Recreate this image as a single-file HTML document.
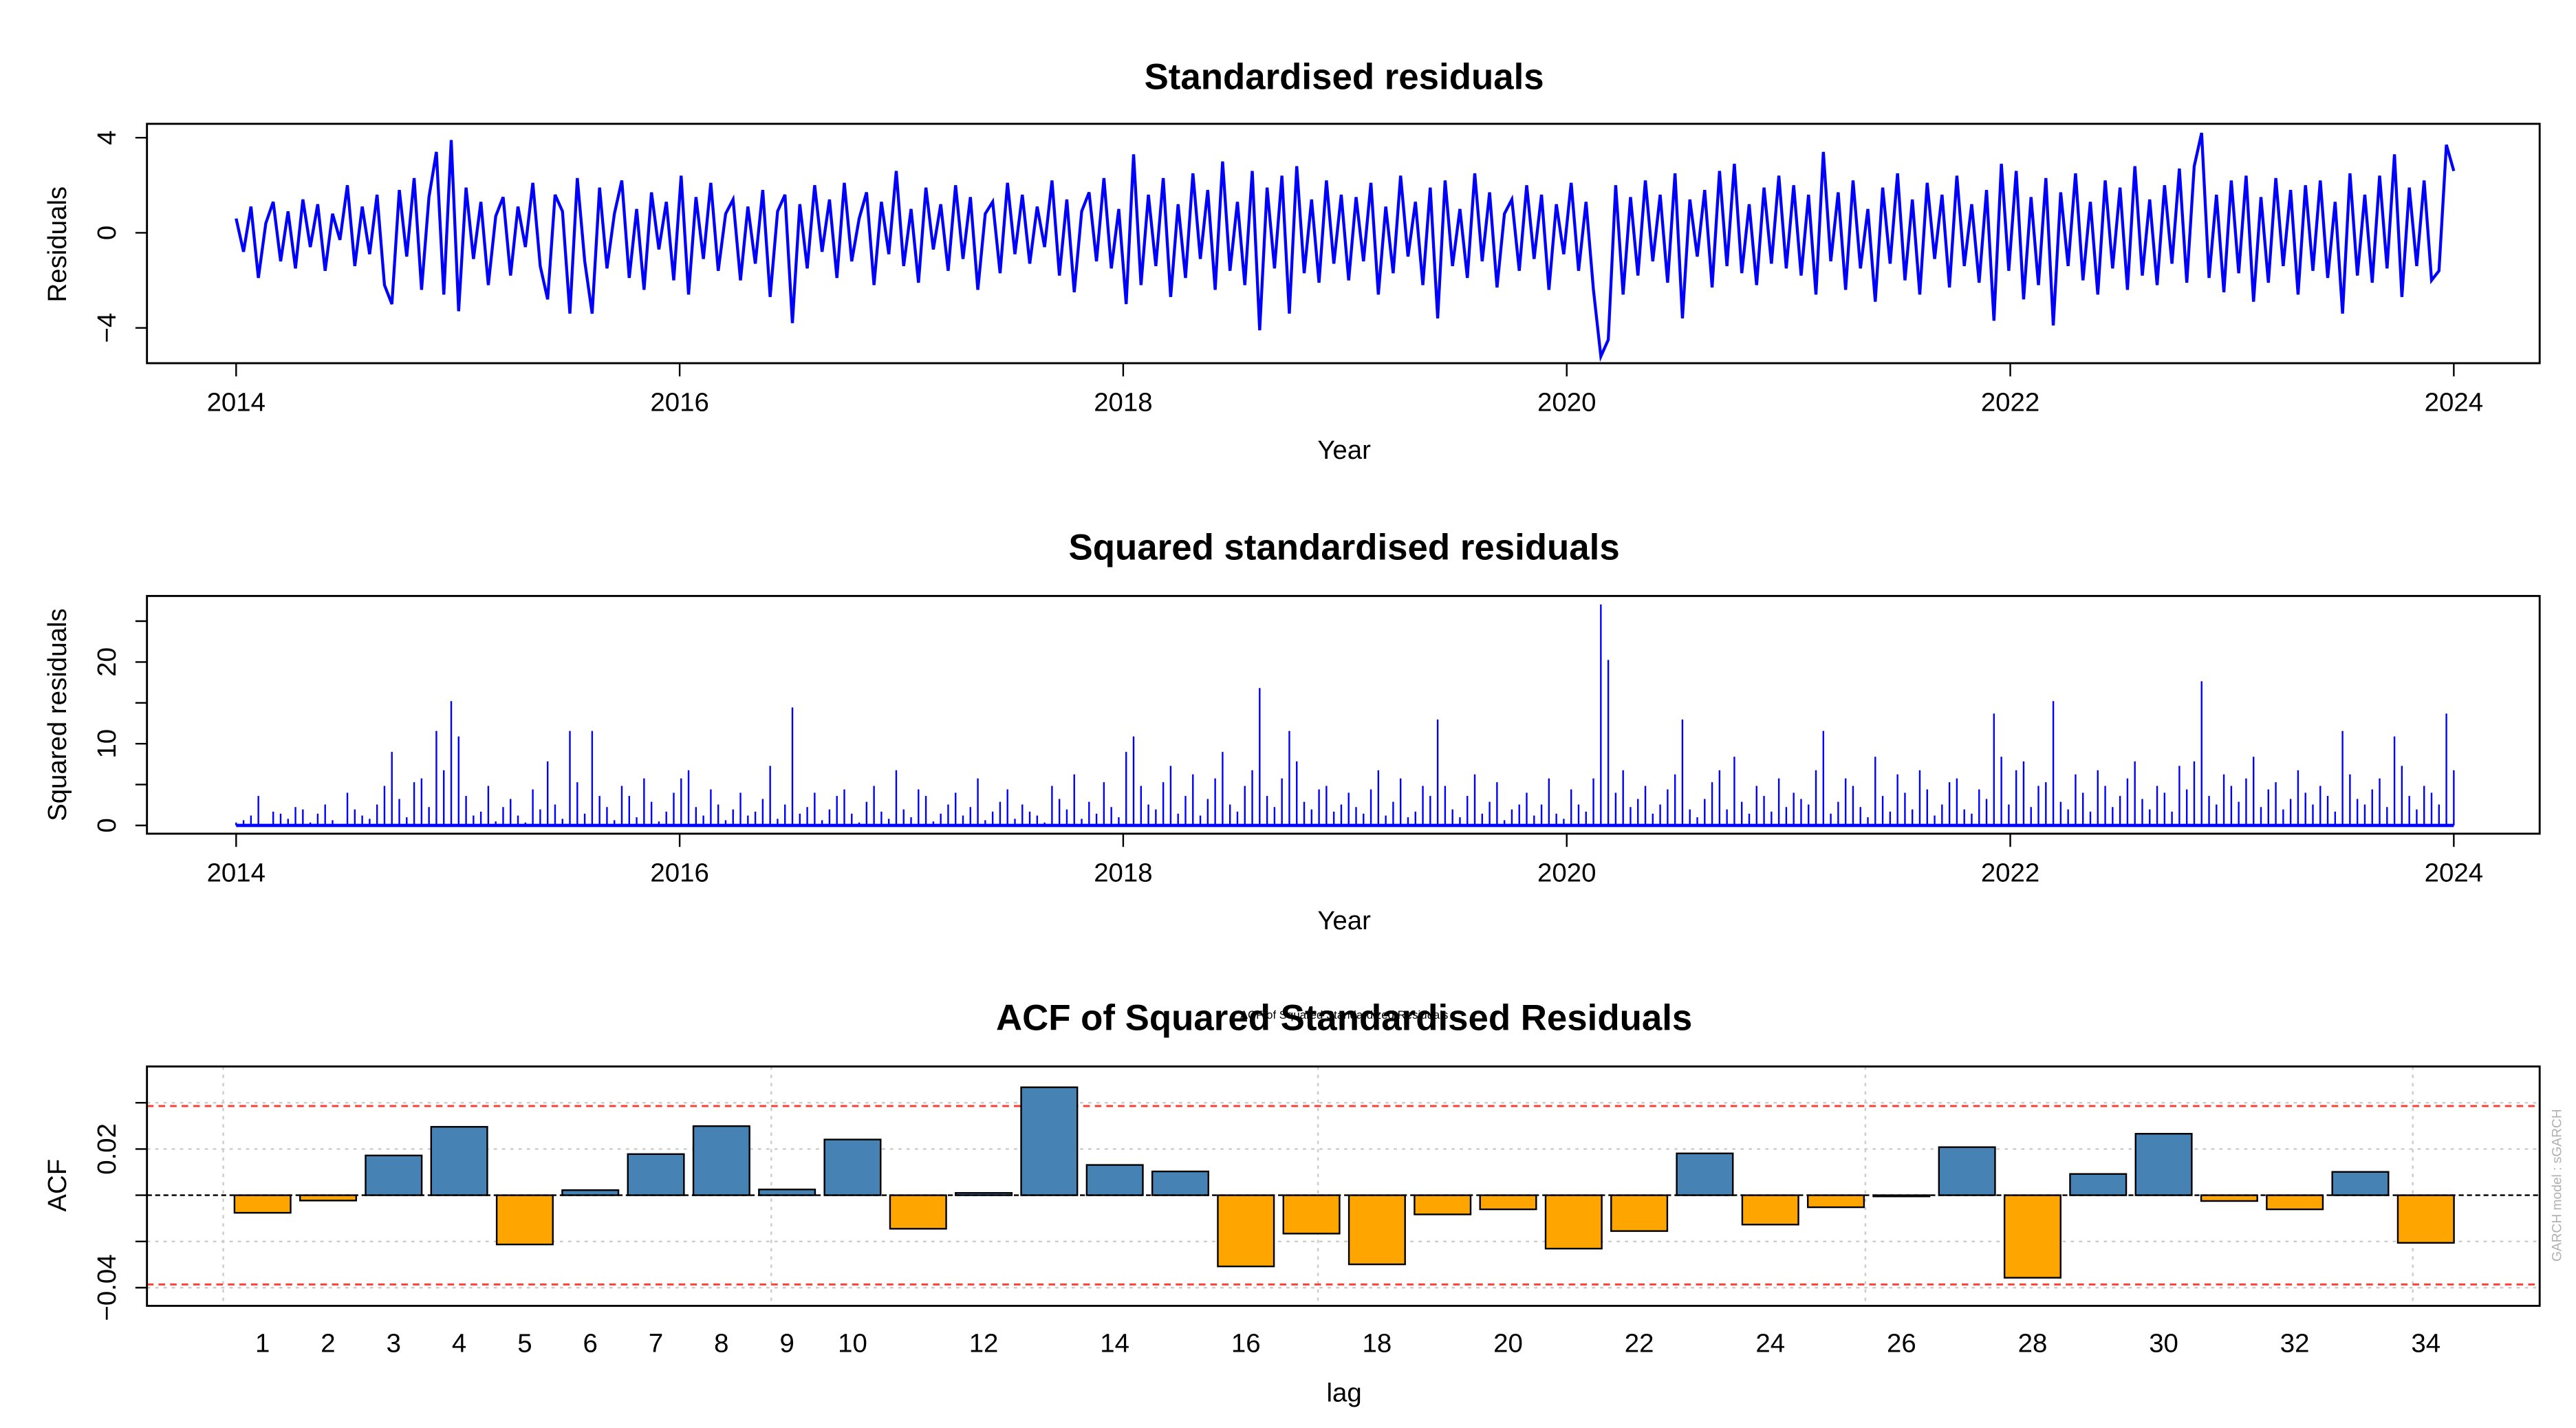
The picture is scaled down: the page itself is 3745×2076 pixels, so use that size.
<!DOCTYPE html>
<html><head><meta charset="utf-8"><style>
html,body{margin:0;padding:0;background:#fff;}
svg{display:block;font-family:"Liberation Sans",Arial,sans-serif;}
</style></head><body>
<svg id="fig" width="3745" height="2076" viewBox="0 0 1560 865" preserveAspectRatio="none" xmlns="http://www.w3.org/2000/svg">
<g id="p1"></g>
<g id="p2"></g>
<g id="p3"></g>
</svg>
<script>
// residuals sampled ~30 per year, 2014..2024
const residuals = [
0.6,-0.8,1.1,-1.9,0.4,1.3,-1.2,0.9,-1.5,1.4,-0.6,1.2,-1.6,0.8,-0.3,2.0,-1.4,1.1,-0.9,1.6,-2.2,-3.0,1.8,-1.0,2.3,-2.4,1.5,3.4,-2.6,3.9,
-3.3,1.9,-1.1,1.3,-2.2,0.7,1.5,-1.8,1.1,-0.6,2.1,-1.4,-2.8,1.6,0.9,-3.4,2.3,-1.2,-3.4,1.9,-1.5,0.8,2.2,-1.9,1.0,-2.4,1.7,-0.7,1.3,-2.0,
2.4,-2.6,1.5,-1.1,2.1,-1.6,0.8,1.4,-2.0,1.1,-1.3,1.8,-2.7,0.9,1.6,-3.8,1.2,-1.5,2.0,-0.8,1.4,-1.9,2.1,-1.2,0.6,1.7,-2.2,1.3,-0.9,2.6,
-1.4,1.0,-2.1,1.9,-0.7,1.2,-1.6,2.0,-1.1,1.5,-2.4,0.8,1.3,-1.7,2.1,-0.9,1.6,-1.3,1.1,-0.6,2.2,-1.8,1.4,-2.5,0.9,1.7,-1.2,2.3,-1.5,1.0,
-3.0,3.3,-2.2,1.6,-1.4,2.3,-2.7,1.2,-1.9,2.5,-1.1,1.8,-2.4,3.0,-1.6,1.3,-2.2,2.6,-4.1,1.9,-1.5,2.4,-3.4,2.8,-1.7,1.4,-2.1,2.2,-1.3,1.6,
-2.0,1.5,-1.2,2.1,-2.6,1.1,-1.7,2.4,-1.0,1.3,-2.2,1.9,-3.6,2.2,-1.4,1.0,-1.9,2.5,-1.2,1.7,-2.3,0.8,1.4,-1.6,2.0,-1.1,1.6,-2.4,1.2,-0.9,
2.1,-1.6,1.3,-2.4,-5.2,-4.5,2.0,-2.6,1.5,-1.8,2.2,-1.2,1.6,-2.1,2.5,-3.6,1.4,-1.0,1.8,-2.3,2.6,-1.4,2.9,-1.7,1.2,-2.2,1.9,-1.3,2.4,-1.5,
2.0,-1.8,1.6,-2.6,3.4,-1.2,1.7,-2.4,2.2,-1.5,1.0,-2.9,1.9,-1.3,2.5,-2.0,1.4,-2.6,2.1,-1.1,1.6,-2.3,2.4,-1.4,1.2,-2.1,1.8,-3.7,2.9,-1.6,
2.6,-2.8,1.5,-2.2,2.3,-3.9,1.7,-1.4,2.5,-2.0,1.3,-2.6,2.2,-1.5,1.9,-2.4,2.8,-1.8,1.4,-2.2,2.0,-1.3,2.7,-2.1,2.8,4.2,-1.9,1.6,-2.5,2.2,
-1.7,2.4,-2.9,1.5,-2.1,2.3,-1.4,1.8,-2.6,2.0,-1.6,2.2,-1.9,1.3,-3.4,2.5,-1.8,1.6,-2.1,2.4,-1.5,3.3,-2.7,1.9,-1.4,2.2,-2.0,-1.6,3.7,2.6
];
const yearTicks = [2014,2016,2018,2020,2022,2024];
const resTicks = [-4,0,4];
const sqTicks = [0,10,20];
const lags = [1,2,3,4,5,6,7,8,9,10,11,12,13,14,15,16,17,18,19,20,21,22,23,24,25,26,27,28,29,30,31,32,33,34];
const acfValues = [-0.0076,-0.0023,0.0172,0.0296,-0.0213,0.0022,0.0178,0.0299,0.0025,0.0241,-0.0145,0.001,0.0467,0.0131,0.0103,-0.0308,-0.0166,-0.0299,-0.0083,-0.0061,-0.0231,-0.0155,0.0181,-0.0127,-0.0052,-0.0005,0.0208,-0.0357,0.0092,0.0266,-0.0025,-0.0061,0.0101,-0.0206];
const lagLabels = [1,2,3,4,5,6,7,8,9,10,12,14,16,18,20,22,24,26,28,30,32,34];
const acfTicks = [-0.04,-0.02,0,0.02,0.04];
const acfTickLabels = [-0.04,0.02];
const acfBound = 0.0386;

const NS="http://www.w3.org/2000/svg";
function mk(parent,tag,attrs,text){const e=document.createElementNS(NS,tag);for(const k in attrs)e.setAttribute(k,attrs[k]);if(text!==undefined)e.textContent=text;parent.appendChild(e);return e;}
const fmt=v=>(v<0?"\u2212":"")+String(Math.abs(v));

const X0=89,X1=1538;
const xYear=y=>143+(y-2014)*134.3;
const yearOf=i=>2014+i*10/(residuals.length-1);

function timeAxis(g,yb){
  yearTicks.forEach(t=>{
    const l=mk(g,'line',{x1:xYear(t),x2:xYear(t),y1:yb,y2:yb+8,stroke:'#000','stroke-width':1});
    
    
    const tx=mk(g,'text',{x:xYear(t),y:yb+29,'font-size':16,'text-anchor':'middle'},String(t));
    
    
  });
  const xl=mk(g,'text',{x:814,y:yb+58,'font-size':16,'text-anchor':'middle'},'Year');
  
  
}

// Panel 1
const p1=document.getElementById('p1');
const y1=v=>141-v*14.4;
{
  const t=mk(p1,'text',{x:814,y:54,'font-size':22,'font-weight':'bold','text-anchor':'middle'},'Standardised residuals');
  
  
  let d='';residuals.forEach((v,i)=>{d+=(i?'L':'M')+xYear(yearOf(i)).toFixed(2)+','+y1(v).toFixed(2);});
  const ln=mk(p1,'path',{d:d,fill:'none',stroke:'#0000ff','stroke-width':1.8});
  
  
  const b=mk(p1,'rect',{x:X0,y:75,width:X1-X0,height:145,fill:'none',stroke:'#000','stroke-width':1.2});
  
  
  resTicks.forEach(v=>{
    const l=mk(p1,'line',{x1:X0-7,x2:X0,y1:y1(v),y2:y1(v),stroke:'#000'});
    
    
    const tx=mk(p1,'text',{x:0,y:0,'font-size':16,'text-anchor':'middle',transform:`translate(70,${y1(v)}) rotate(-90)`},fmt(v));
    
    
  });
  const yl=mk(p1,'text',{x:0,y:0,'font-size':16,'text-anchor':'middle',transform:'translate(40,148) rotate(-90)'},'Residuals');
  
  
  timeAxis(p1,220);
}

// Panel 2
const p2=document.getElementById('p2');
const y2=v=>500-v*4.95;
{
  const t=mk(p2,'text',{x:814,y:339,'font-size':22,'font-weight':'bold','text-anchor':'middle'},'Squared standardised residuals');
  
  
  residuals.forEach((v,i)=>{
    const x=xYear(yearOf(i));
    const l=mk(p2,'line',{x1:x,x2:x,y1:y2(0),y2:y2(v*v),stroke:'#0000ff','stroke-width':1});
    
    
  });
  const base=mk(p2,'line',{x1:xYear(2014),x2:xYear(2024),y1:y2(0),y2:y2(0),stroke:'#0000ff','stroke-width':2});
  
  
  const b=mk(p2,'rect',{x:X0,y:361,width:X1-X0,height:144,fill:'none',stroke:'#000','stroke-width':1.2});
  
  
  [0,5,10,15,20,25].forEach(v=>{
    const l=mk(p2,'line',{x1:X0-7,x2:X0,y1:y2(v),y2:y2(v),stroke:'#000'});
    
    
  });
  sqTicks.forEach(v=>{
    const tx=mk(p2,'text',{x:0,y:0,'font-size':16,'text-anchor':'middle',transform:`translate(70,${y2(v)}) rotate(-90)`},String(v));
    
    
  });
  const yl=mk(p2,'text',{x:0,y:0,'font-size':16,'text-anchor':'middle',transform:'translate(40,433) rotate(-90)'},'Squared residuals');
  
  
  timeAxis(p2,505);
}

// Panel 3 ACF
const p3=document.getElementById('p3');
const xl=l=>159+(l-1)*39.7;
const y3=v=>724-v*1400;
{
  const t=mk(p3,'text',{x:814,y:624,'font-size':22,'font-weight':'bold','text-anchor':'middle'},'ACF of Squared Standardised Residuals');
  
  
  const st=mk(p3,'text',{x:814,y:617,'font-size':7,'text-anchor':'middle'},'ACF of Squared Standardized Residuals');
  
  
  [0.4,8.76,17.1,25.45,33.8].forEach(l=>{
    const g=mk(p3,'line',{x1:xl(l),x2:xl(l),y1:646,y2:791,stroke:'#ccc','stroke-dasharray':'2,3'});
    
    
  });
  acfTicks.forEach(v=>{
    const g=mk(p3,'line',{x1:X0,x2:X1,y1:y3(v),y2:y3(v),stroke:'#ccc','stroke-dasharray':'2,3'});
    
    
  });
  [acfBound,-acfBound].forEach(v=>{
    const r=mk(p3,'line',{x1:X0,x2:X1,y1:y3(v),y2:y3(v),stroke:'#ff3b30','stroke-width':1.2,'stroke-dasharray':'4,3'});
    
    
  });
  lags.forEach((l,i)=>{
    const v=acfValues[i];
    const top=Math.min(y3(0),y3(v)),h=Math.abs(y3(v)-y3(0));
    const r=mk(p3,'rect',{x:xl(l)-17,y:top,width:34,height:Math.max(h,0.5),fill:v>=0?'#4682b4':'#ffa500',stroke:'#000','stroke-width':1});
    
    
  });
  const z=mk(p3,'line',{x1:X0,x2:X1,y1:y3(0),y2:y3(0),stroke:'#000','stroke-width':1,'stroke-dasharray':'3,2'});
  
  
  const b=mk(p3,'rect',{x:X0,y:646,width:X1-X0,height:145,fill:'none',stroke:'#000','stroke-width':1.2});
  
  
  acfTicks.forEach(v=>{
    const l=mk(p3,'line',{x1:X0-7,x2:X0,y1:y3(v),y2:y3(v),stroke:'#000'});
    
    
  });
  acfTickLabels.forEach(v=>{
    const tx=mk(p3,'text',{x:0,y:0,'font-size':16,'text-anchor':'middle',transform:`translate(70,${y3(v)}) rotate(-90)`},fmt(v));
    
    
  });
  lagLabels.forEach(l=>{
    const tx=mk(p3,'text',{x:xl(l),y:819,'font-size':16,'text-anchor':'middle'},String(l));
    
    
  });
  const xt=mk(p3,'text',{x:814,y:849,'font-size':16,'text-anchor':'middle'},'lag');
  
  
  const yt=mk(p3,'text',{x:0,y:0,'font-size':16,'text-anchor':'middle',transform:'translate(40,718) rotate(-90)'},'ACF');
  
  
  const side=mk(p3,'text',{x:0,y:0,'font-size':8,fill:'#b0b0b0','text-anchor':'middle',transform:'translate(1551,718) rotate(-90)'},'GARCH model :  sGARCH');
  
  
}
</script>
</body></html>
